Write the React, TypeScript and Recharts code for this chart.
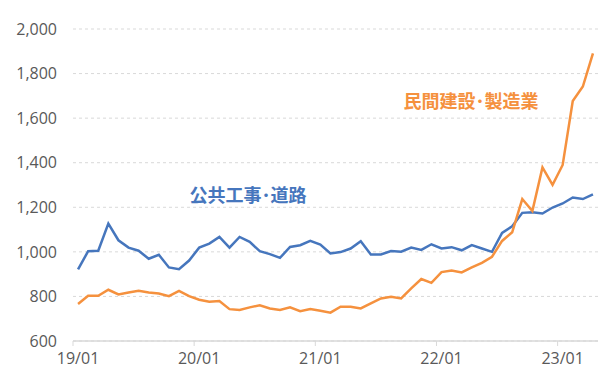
import React from "react";
import { LineChart, Line, XAxis, YAxis, CartesianGrid } from "recharts";

const months = [
  "19/01","19/02","19/03","19/04","19/05","19/06","19/07","19/08","19/09","19/10","19/11","19/12",
  "20/01","20/02","20/03","20/04","20/05","20/06","20/07","20/08","20/09","20/10","20/11","20/12",
  "21/01","21/02","21/03","21/04","21/05","21/06","21/07","21/08","21/09","21/10","21/11","21/12",
  "22/01","22/02","22/03","22/04","22/05","22/06","22/07","22/08","22/09","22/10","22/11","22/12",
  "23/01","23/02","23/03","23/04",
];

const publicWorks = [
  921, 1003, 1005, 1127, 1052, 1019, 1005, 969, 987, 930, 922, 961,
  1019, 1037, 1067, 1019, 1067, 1045, 1003, 990, 973, 1022, 1030, 1049,
  1033, 993, 999, 1015, 1048, 988, 988, 1004, 1001, 1019, 1009, 1034,
  1015, 1021, 1007, 1030, 1015, 1000, 1085, 1115, 1175, 1178, 1172, 1199,
  1217, 1244, 1237, 1258,
];

const privateMfg = [
  766, 803, 803, 830, 809, 818, 825, 818, 813, 801, 825, 801,
  785, 776, 779, 743, 739, 751, 760, 746, 739, 751, 734, 743,
  736, 727, 754, 754, 746, 769, 791, 799, 791, 836, 878, 861,
  909, 916, 908, 930, 951, 978, 1049, 1088, 1237, 1183, 1379, 1301,
  1390, 1677, 1742, 1891,
];

const yTicks = [600, 800, 1000, 1200, 1400, 1600, 1800, 2000];
const xTickLabels = ["19/01", "20/01", "21/01", "22/01", "23/01"];

const seriesNames = ["公共工事･道路", "民間建設･製造業"];

const data = months.map((m, i) => ({
  month: m,
  pub: publicWorks[i],
  priv: privateMfg[i],
}));

const BLUE = "#4676BD";
const ORANGE = "#F5913E";
const AXIS_GREY = "#D9D9D9";
const TEXT_GREY = "#595959";

const CHART_W = 616;
const CHART_H = 383;
const Y_AXIS_W = 73;
const MARGIN = { top: 29, right: 18, bottom: 0, left: 0 };
const PLOT_W = CHART_W - Y_AXIS_W - MARGIN.right - MARGIN.left;
const HALF_BAND = PLOT_W / months.length / 2;

const XTick = (props: any) => {
  const { x, y, payload } = props;
  if (!xTickLabels.includes(payload.value)) return null;
  return (
    <g>
      <line
        x1={x - HALF_BAND}
        x2={x - HALF_BAND}
        y1={y}
        y2={y + 5}
        stroke={AXIS_GREY}
        strokeWidth={1}
      />
      <text
        x={x}
        y={y + 23}
        textAnchor="middle"
        fill={TEXT_GREY}
        fontSize={16}
        fontFamily="'Open Sans', 'Liberation Sans', sans-serif"
      >
        {payload.value}
      </text>
    </g>
  );
};

export default function App() {
  return (
    <div
      style={{
        position: "absolute",
        left: 0,
        top: 0,
        width: CHART_W,
        height: CHART_H,
        background: "#fff",
      }}
    >
      <LineChart width={CHART_W} height={CHART_H} data={data} margin={MARGIN}>
        <CartesianGrid
          horizontal={true}
          vertical={false}
          stroke={AXIS_GREY}
          strokeDasharray="3 3"
        />
        <XAxis
          dataKey="month"
          type="category"
          interval={11}
          padding={{ left: HALF_BAND, right: HALF_BAND }}
          height={42}
          axisLine={{ stroke: AXIS_GREY, strokeWidth: 1.5 }}
          tickLine={false}
          tickSize={0}
          tickMargin={0}
          tick={<XTick />}
        />
        <YAxis
          width={Y_AXIS_W}
          domain={[600, 2000]}
          ticks={yTicks}
          axisLine={false}
          tickLine={false}
          tickSize={0}
          tickMargin={16}
          tickFormatter={(v: number) => v.toLocaleString("en-US")}
          tick={{
            fill: TEXT_GREY,
            fontSize: 16,
            fontFamily: "'Open Sans', 'Liberation Sans', sans-serif",
          }}
        />
        <Line
          type="linear"
          dataKey="pub"
          name={seriesNames[0]}
          stroke={BLUE}
          strokeWidth={2.5}
          dot={false}
          isAnimationActive={false}
        />
        <Line
          type="linear"
          dataKey="priv"
          name={seriesNames[1]}
          stroke={ORANGE}
          strokeWidth={2.5}
          dot={false}
          isAnimationActive={false}
        />
      </LineChart>
      <div
        style={{
          position: "absolute",
          left: 248,
          top: 194,
          transform: "translate(-50%, -50%)",
          color: BLUE,
          fontWeight: 700,
          fontSize: 18,
          fontFamily: "'Noto Sans CJK JP', sans-serif",
          whiteSpace: "nowrap",
        }}
      >
        {seriesNames[0]}
      </div>
      <div
        style={{
          position: "absolute",
          left: 471,
          top: 100,
          transform: "translate(-50%, -50%)",
          color: ORANGE,
          fontWeight: 700,
          fontSize: 18,
          fontFamily: "'Noto Sans CJK JP', sans-serif",
          whiteSpace: "nowrap",
        }}
      >
        {seriesNames[1]}
      </div>
    </div>
  );
}
